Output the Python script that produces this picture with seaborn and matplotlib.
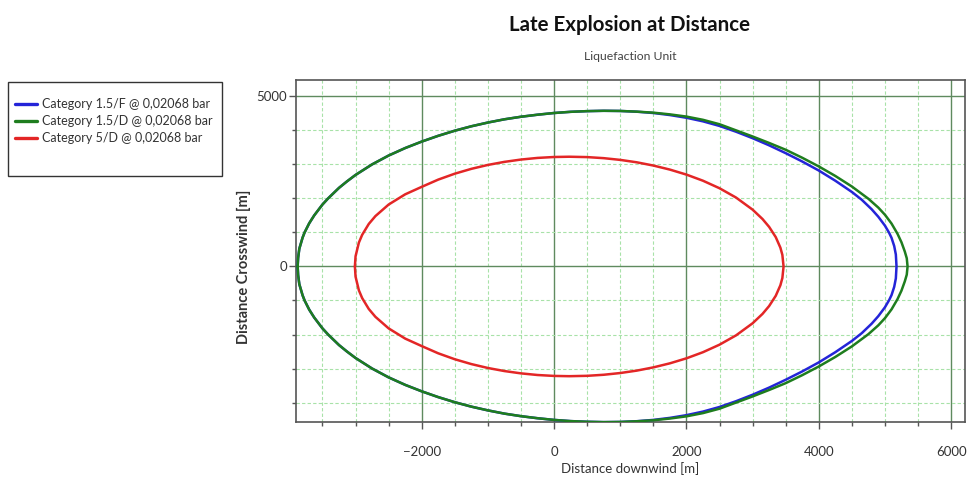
import matplotlib
matplotlib.use("Agg")
import matplotlib.pyplot as plt
from matplotlib.ticker import MultipleLocator
from matplotlib.patches import Rectangle
import seaborn as sns
import pandas as pd

# ---- data (downwind distance x, crosswind half-width w) ----
series_names = ["Category 1.5/F @ 0,02068 bar",
                "Category 1.5/D @ 0,02068 bar",
                "Category 5/D @ 0,02068 bar"]

green_x = [-3875, -3868, -3850, -3800, -3770, -3700, -3625, -3500, -3415, -3250,
           -3130, -3000, -2750, -2500, -2250, -2000, -1750, -1500, -1250, -1000,
           -750, -500, -250, 0, 250, 500, 750, 1000, 1250, 1500,
           1750, 2000, 2250, 2500, 2750, 3000, 3250, 3500, 3750, 4000,
           4250, 4500, 4750, 4900, 5000, 5100, 5190, 5250, 5300, 5330, 5342]
green_w = [0, 250, 520, 850, 1000, 1270, 1500, 1820, 2000, 2310,
           2500, 2690, 3000, 3260, 3480, 3670, 3840, 3990, 4120, 4230,
           4325, 4400, 4460, 4510, 4545, 4565, 4575, 4570, 4550, 4520,
           4470, 4405, 4310, 4180, 4000, 3820, 3630, 3430, 3195, 2940,
           2660, 2350, 1990, 1730, 1520, 1260, 960, 710, 440, 240, 0]

blue_x = [-3875, -3868, -3850, -3800, -3770, -3700, -3625, -3500, -3415, -3250,
          -3130, -3000, -2750, -2500, -2250, -2000, -1750, -1500, -1250, -1000,
          -750, -500, -250, 0, 250, 500, 750, 1000, 1250, 1500,
          1750, 2000, 2250, 2500, 2750, 3000, 3250, 3500, 3750, 4000,
          4250, 4500, 4650, 4800, 4900, 5000, 5063, 5100, 5140, 5165, 5175]
blue_w = [0, 250, 520, 850, 1000, 1270, 1500, 1820, 2000, 2310,
          2500, 2690, 3000, 3260, 3480, 3670, 3840, 3990, 4120, 4230,
          4325, 4400, 4460, 4510, 4545, 4565, 4575, 4570, 4548, 4510,
          4450, 4370, 4265, 4130, 3960, 3770, 3560, 3330, 3085, 2820,
          2520, 2190, 1960, 1680, 1460, 1200, 990, 840, 600, 350, 0]

red_x = [-3010, -3000, -2950, -2900, -2800, -2700, -2500, -2250, -2000, -1750,
         -1500, -1250, -1000, -750, -500, -250, 0, 229, 500, 750,
         1000, 1250, 1500, 1750, 2000, 2250, 2500, 2750, 3000, 3150,
         3250, 3350, 3420, 3450, 3468]
red_w = [0, 300, 700, 930, 1250, 1480, 1820, 2120, 2340, 2553,
         2727, 2869, 2984, 3074, 3142, 3190, 3217, 3225, 3214, 3183,
         3132, 3061, 2966, 2847, 2700, 2520, 2299, 2025, 1670, 1394,
         1163, 862, 553, 340, 0]

colors = ["#2424d8", "#1e7d1e", "#e32626"]

x_ticks = [-2000, 0, 2000, 4000, 6000]
y_ticks = [0, 5000]

# ---- build closed contours (upper half, then mirrored lower half) ----
rows = []
for name, xs, ws in zip(series_names, [blue_x, green_x, red_x], [blue_w, green_w, red_w]):
    px = list(xs) + list(xs[::-1])[1:]
    py = list(ws) + [-v for v in ws[::-1]][1:]
    for i, (a, b) in enumerate(zip(px, py)):
        rows.append({"series": name, "order": i, "x": a, "y": b})
df = pd.DataFrame(rows)

sns.set_theme(style="white")
plt.rcParams["font.family"] = ["Lato", "DejaVu Sans"]

W, H = 978, 484
fig = plt.figure(figsize=(W / 100, H / 100), dpi=100)
ax = fig.add_axes([296 / W, 1 - 422.3 / H, (965 - 296) / W, (422.3 - 80) / H])

sns.lineplot(data=df, x="x", y="y", hue="series", hue_order=series_names,
             palette=colors, sort=False, estimator=None, linewidth=1.8, ax=ax, zorder=3)

ax.set_xlim(-3900, 6210)
ax.set_ylim(-4580, 5480)
ax.set_xticks(x_ticks)
ax.set_yticks(y_ticks)
ax.xaxis.set_minor_locator(MultipleLocator(500))
ax.yaxis.set_minor_locator(MultipleLocator(1000))

ax.grid(which="major", color="#5f8a5f", linewidth=1.0, linestyle="-", zorder=0)
ax.grid(which="minor", color="#a8e2a8", linewidth=0.8, linestyle=(0, (3, 2)), zorder=0)
ax.set_axisbelow(True)

for s in ax.spines.values():
    s.set_color("#555555")
    s.set_linewidth(1.2)

ax.tick_params(which="major", direction="out", length=5, width=1, color="#555555",
               labelsize=9.5, labelcolor="#333333", bottom=True, left=True)
ax.tick_params(axis="x", which="major", pad=12)
ax.tick_params(axis="y", which="major", pad=1.5)
ax.tick_params(which="minor", direction="out", length=3, width=1, color="#555555",
               bottom=True, left=True)

ax.set_xlabel("Distance downwind [m]", fontsize=9.5, color="#333333", labelpad=3)
ax.set_ylabel("Distance Crosswind [m]", fontsize=10.5, color="#333333", fontweight="bold")
ax.yaxis.set_label_coords((251 - 296) / 669, (422.3 - 267) / 342.3)

fig.text(630 / W, 1 - 25 / H, "Late Explosion at Distance", ha="center", va="center",
         fontsize=14.8, fontweight="bold", color="#111111")
fig.text(630 / W, 1 - 57 / H, "Liquefaction Unit", ha="center", va="center",
         fontsize=8.8, color="#444444")

handles, labels = ax.get_legend_handles_labels()
ax.get_legend().remove()
for h in handles:
    h.set_linewidth(2.4)
leg = fig.legend(handles, labels, loc="upper left",
                 bbox_to_anchor=(15 / W, 1 - 98 / H), bbox_transform=fig.transFigure,
                 fontsize=9, frameon=False, handlelength=1.75,
                 handletextpad=0.4, labelspacing=0.42, borderpad=0.0, borderaxespad=0.0)
for t in leg.get_texts():
    t.set_color("#333333")
fig.patches.append(Rectangle((8 / W, 1 - 176 / H), (222 - 8) / W, (176 - 82) / H,
                             transform=fig.transFigure, fill=False,
                             edgecolor="#333333", linewidth=1.0))

fig.savefig("out.png", dpi=100)
